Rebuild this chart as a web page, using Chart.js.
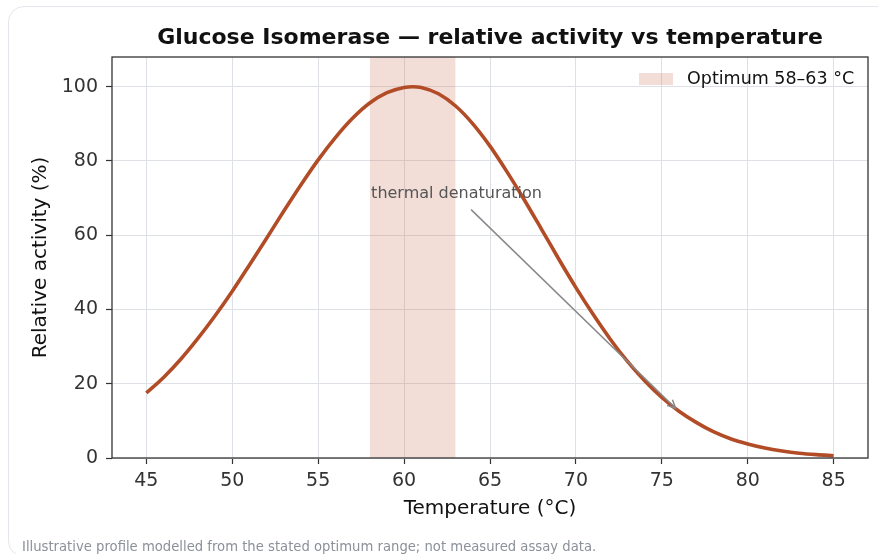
<!DOCTYPE html>
<html>
<head>
<meta charset="utf-8">
<script src="https://cdn.jsdelivr.net/npm/chart.js@4.4.1/dist/chart.umd.min.js"></script>
<style>
  html, body { margin: 0; padding: 0; background: #ffffff; }
  body { width: 878px; height: 554px; position: relative; overflow: hidden; font-family: "DejaVu Sans", sans-serif; }
  #card { position: absolute; left: 8px; top: 6px; width: 920px; height: 551px; border: 1.5px solid #e3e6ea; border-radius: 16px; box-sizing: border-box; }
  #wrap { position: absolute; left: 0; top: 0; width: 878px; height: 554px; }
  #note { position: absolute; left: 22px; top: 539px; font-size: 13.2px; line-height: 16px; color: #8b9099; white-space: nowrap; }
</style>
</head>
<body>
<div id="card"></div>
<div id="wrap"><canvas id="c" width="878" height="554"></canvas></div>
<div id="note">Illustrative profile modelled from the stated optimum range; not measured assay data.</div>
<script>
// ---- data ----
const temperatures = [45,46,47,48,49,50,51,52,53,54,55,56,57,58,59,60,60.5,61,62,63,64,65,66,67,68,69,70,71,72,73,74,75,76,77,78,79,80,81,82,83,84,85];
const activity     = [17.5,21.7,26.6,32.2,38.3,44.9,52.0,59.2,66.5,73.6,80.3,86.3,91.5,95.6,98.4,99.8,100,99.8,98.1,94.8,90.0,84.0,77.0,69.5,61.6,53.6,45.9,38.7,32.0,26.0,20.8,16.3,12.6,9.6,7.1,5.2,3.8,2.7,1.9,1.3,0.9,0.6];
const optimumRange = [58, 63];
const xTicks = [45,50,55,60,65,70,75,80,85];
const yTicks = [0,20,40,60,80,100];
const xLimits = [43, 87];
const yLimits = [0, 108];
const annotationText = "thermal denaturation";
const annotationTextAt = [58.08, 71.2];
const annotationArrowFrom = [63.9, 66.9];
const annotationArrowTo = [75.8, 13.4];
const legendLabel = "Optimum 58\u201363 \u00b0C";
const titleText = "Glucose Isomerase \u2014 relative activity vs temperature";

const curveColor = '#b24c27';
const bandColor = 'rgba(200,110,80,0.23)';
const FONT = "'DejaVu Sans', sans-serif";

const curveData = temperatures.map((t, i) => ({ x: t, y: activity[i] }));
const bandData = optimumRange.map(t => ({ x: t, y: yLimits[1] }));

const extras = {
  id: 'extras',
  afterDatasetsDraw(chart) {
    const { ctx, scales: { x, y } } = chart;
    ctx.save();
    ctx.font = `16px ${FONT}`;
    ctx.fillStyle = '#555555';
    ctx.textAlign = 'left';
    ctx.textBaseline = 'middle';
    ctx.fillText(annotationText, x.getPixelForValue(annotationTextAt[0]), y.getPixelForValue(annotationTextAt[1]));
    const x0 = x.getPixelForValue(annotationArrowFrom[0]), y0 = y.getPixelForValue(annotationArrowFrom[1]);
    const x1 = x.getPixelForValue(annotationArrowTo[0]), y1 = y.getPixelForValue(annotationArrowTo[1]);
    ctx.strokeStyle = '#888888';
    ctx.lineWidth = 1.5;
    ctx.beginPath(); ctx.moveTo(x0, y0); ctx.lineTo(x1, y1); ctx.stroke();
    const ang = Math.atan2(y1 - y0, x1 - x0), L = 9, w = 0.45;
    ctx.beginPath();
    ctx.moveTo(x1 - L * Math.cos(ang - w), y1 - L * Math.sin(ang - w));
    ctx.lineTo(x1, y1);
    ctx.lineTo(x1 - L * Math.cos(ang + w), y1 - L * Math.sin(ang + w));
    ctx.stroke();
    ctx.restore();
  },
  afterDraw(chart) {
    const { ctx, chartArea: a } = chart;
    ctx.save();
    ctx.strokeStyle = '#333333';
    ctx.lineWidth = 1.3;
    ctx.strokeRect(a.left, a.top, a.right - a.left, a.bottom - a.top);
    const lx = a.right - 229, ly = a.top + 16;
    ctx.fillStyle = bandColor;
    ctx.fillRect(lx, ly, 34, 12);
    ctx.fillStyle = '#111111';
    ctx.font = `17.5px ${FONT}`;
    ctx.textBaseline = 'middle';
    ctx.textAlign = 'left';
    ctx.fillText(legendLabel, lx + 48, ly + 6.5);
    ctx.restore();
  }
};

new Chart(document.getElementById('c'), {
  type: 'line',
  data: {
    datasets: [
      {
        label: 'Relative activity',
        data: curveData,
        borderColor: curveColor,
        borderWidth: 3.6,
        pointRadius: 0,
        fill: false,
        cubicInterpolationMode: 'monotone',
        order: 1
      },
      {
        label: legendLabel,
        data: bandData,
        borderWidth: 0,
        borderColor: 'rgba(0,0,0,0)',
        backgroundColor: bandColor,
        pointRadius: 0,
        fill: 'origin',
        order: 2
      }
    ]
  },
  plugins: [extras],
  options: {
    responsive: false,
    animation: false,
    events: [],
    layout: { padding: { left: 0, right: 10, top: 0, bottom: 0 } },
    plugins: {
      legend: { display: false },
      tooltip: { enabled: false },
      title: {
        display: true,
        text: titleText,
        fullSize: false,
        color: '#111111',
        font: { family: FONT, size: 22, weight: 'bold', lineHeight: 1.2 },
        padding: { top: 25, bottom: 5.6 }
      }
    },
    scales: {
      x: {
        type: 'linear',
        min: xLimits[0],
        max: xLimits[1],
        afterBuildTicks: s => { s.ticks = xTicks.map(v => ({ value: v })); },
        afterFit: s => { s.height = 96; },
        ticks: { color: '#333333', font: { family: FONT, size: 19 }, padding: 6, maxRotation: 0 },
        grid: { color: '#dde1e6', lineWidth: 1, drawTicks: true, tickLength: 6, tickColor: '#333333', tickWidth: 1.2 },
        border: { display: false },
        title: { display: true, text: 'Temperature (\u00b0C)', color: '#111111', font: { family: FONT, size: 20, lineHeight: 1.2 }, padding: { top: 0, bottom: 33 } }
      },
      y: {
        type: 'linear',
        min: yLimits[0],
        max: yLimits[1],
        afterBuildTicks: s => { s.ticks = yTicks.map(v => ({ value: v })); },
        afterFit: s => { s.width = 112; },
        ticks: { color: '#333333', font: { family: FONT, size: 19 }, padding: 8 },
        grid: { color: '#dde1e6', lineWidth: 1, drawTicks: true, tickLength: 6, tickColor: '#333333', tickWidth: 1.2 },
        border: { display: false },
        title: { display: true, text: 'Relative activity (%)', color: '#111111', font: { family: FONT, size: 20, lineHeight: 1.2 }, padding: { top: 29, bottom: 0 } }
      }
    }
  }
});
</script>
</body>
</html>
